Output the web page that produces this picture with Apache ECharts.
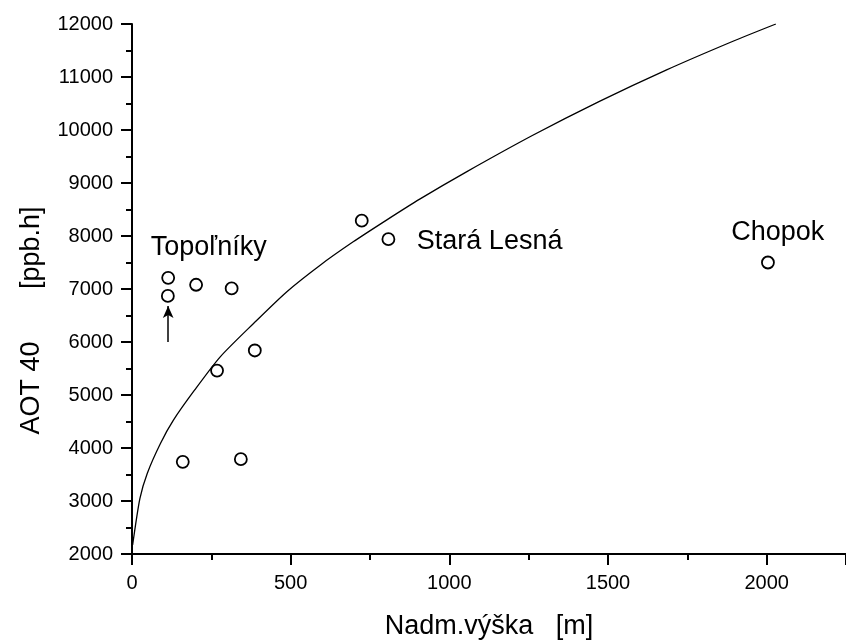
<!DOCTYPE html>
<html>
<head>
<meta charset="utf-8">
<script src="https://cdn.jsdelivr.net/npm/echarts@6/dist/echarts.min.js"></script>
<style>
html,body{margin:0;padding:0;background:#fff;}
#c{width:846px;height:641px;}
</style>
</head>
<body>
<div id="c"></div>
<script>
// Measured stations: altitude [m] and AOT40 [ppb.h]
var stationX = [114, 113, 202, 314, 387, 268, 724, 808, 160, 343, 2004];
var stationY = [7210, 6870, 7080, 7010, 5840, 5460, 8290, 7940, 3740, 3790, 7500];

// Fitted curve, points
var curveX = [2, 25, 48, 90, 131, 197, 278, 383, 488, 593, 697, 802, 908, 1054, 1263, 1473, 1683, 1892, 2029];
var curveY = [2170, 3050, 3520, 4090, 4530, 5090, 5720, 6350, 6950, 7450, 7890, 8300, 8700, 9210, 9900, 10540, 11130, 11670, 12000];

// Station name annotations (data coordinates of label centres)
var labelNames = ['Topoľníky', 'Stará Lesná', 'Chopok'];
var labelX = [242, 1127, 2035];
var labelY = [7790, 7890, 8060];

// Arrow marking a station
var arrowX = [114, 114];
var arrowY = [6000, 6680];

// Axis ticks
var xTicks = [0, 500, 1000, 1500, 2000];
var yTicks = [2000, 3000, 4000, 5000, 6000, 7000, 8000, 9000, 10000, 11000, 12000];

var FONT = '"Liberation Sans", Arial, Helvetica, sans-serif';

var chart = echarts.init(document.getElementById('c'), null, {renderer: 'canvas'});

var curveData = curveX.map(function (x, i) { return [x, curveY[i]]; });
var stationData = stationX.map(function (x, i) { return [x, stationY[i]]; });
var labelData = labelNames.map(function (n, i) { return {name: n, value: [labelX[i], labelY[i]]}; });

var axisCommon = {
  axisLine: {show: true, onZero: false, lineStyle: {color: '#000', width: 2}},
  axisTick: {show: true, inside: false, length: 11, lineStyle: {color: '#000', width: 2}},
  minorTick: {show: true, splitNumber: 2, length: 6, lineStyle: {color: '#000', width: 2}},
  splitLine: {show: false},
  axisLabel: {color: '#000', fontFamily: FONT, fontSize: 20, margin: 19}
};

chart.setOption({
  backgroundColor: '#fff',
  animation: false,
  grid: {left: 132, right: 0, top: 24, bottom: 87, containLabel: false, outerBoundsMode: 'none'},
  xAxis: Object.assign({}, axisCommon, {
    type: 'value',
    min: 0, max: 2250, interval: 500,
    name: 'Nadm.výška   [m]',
    nameLocation: 'middle',
    nameGap: 59,
    nameTextStyle: {color: '#000', fontFamily: FONT, fontSize: 27},
    axisLabel: Object.assign({}, axisCommon.axisLabel, {
      formatter: function (v) { return xTicks.indexOf(v) >= 0 ? String(v) : ''; }
    })
  }),
  yAxis: Object.assign({}, axisCommon, {
    type: 'value',
    min: 2000, max: 12000, interval: 1000,
    name: 'AOT 40       [ppb.h]',
    nameLocation: 'middle',
    nameGap: 87,
    nameTextStyle: {color: '#000', fontFamily: FONT, fontSize: 27, padding: [0, 63, 0, 0]},
    axisLabel: Object.assign({}, axisCommon.axisLabel, {
      formatter: function (v) { return yTicks.indexOf(v) >= 0 ? String(v) : ''; }
    })
  }),
  series: [
    {
      type: 'line',
      data: curveData,
      showSymbol: false,
      smooth: 0.25,
      lineStyle: {color: '#000', width: 1.3},
      silent: true,
      z: 2
    },
    {
      type: 'scatter',
      data: stationData,
      symbol: 'circle',
      symbolSize: 12,
      itemStyle: {color: '#fff', borderColor: '#000', borderWidth: 1.8, opacity: 1},
      z: 3,
      markLine: {
        silent: true,
        symbol: ['none', 'arrow'],
        symbolSize: [8, 12],
        label: {show: false},
        lineStyle: {color: '#000', width: 1.5, type: 'solid', opacity: 1},
        data: [[{coord: [arrowX[0], arrowY[0]]}, {coord: [arrowX[1], arrowY[1]]}]]
      }
    },
    {
      type: 'scatter',
      data: labelData,
      symbolSize: 0,
      silent: true,
      itemStyle: {opacity: 1},
      label: {
        show: true,
        position: 'inside',
        formatter: '{b}',
        color: '#000',
        fontFamily: FONT,
        fontSize: 27
      },
      z: 4
    }
  ]
});
</script>
</body>
</html>
